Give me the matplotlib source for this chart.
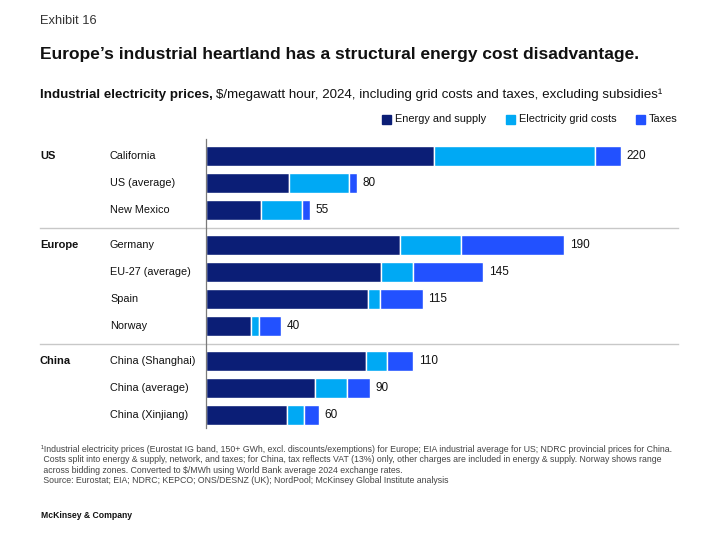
import matplotlib
matplotlib.use("Agg")
import matplotlib.pyplot as plt
from matplotlib import transforms
from matplotlib.patches import Rectangle

# ── Data ─────────────────────────────────────────────────────
groups = ["US", "Europe", "China"]
group_sizes = [3, 4, 3]
categories = ["California", "US (average)", "New Mexico",
              "Germany", "EU-27 (average)", "Spain", "Norway",
              "China (Shanghai)", "China (average)", "China (Xinjiang)"]
energy = [121, 44, 29, 103, 93, 86, 24, 85, 58, 43]
grid_costs = [85, 32, 22, 32, 17, 6, 4, 11, 17, 9]
taxes = [14, 4, 4, 55, 37, 23, 12, 14, 12, 8]
totals = [220, 80, 55, 190, 145, 115, 40, 110, 90, 60]
series_names = ["Energy and supply", "Electricity grid costs", "Taxes"]

# ── Style ────────────────────────────────────────────────────
C_ENERGY, C_GRID, C_TAX = "#0B1E76", "#00A9F4", "#2251FF"
plt.rcParams["font.family"] = ["Liberation Sans", "DejaVu Sans"]

W, H = 728, 560
fig = plt.figure(figsize=(W / 100, H / 100), dpi=100)


def fx(x):
    return x / W


def fy(y):
    return 1 - y / H


# plot area, px box: x 206..678, y 139..428
ax = fig.add_axes([fx(206), fy(428), fx(678) - fx(206), fy(139) - fy(428)])

# row positions with a small gap between groups
GAP = 0.3
ypos = []
for gi, n in enumerate(group_sizes):
    start = sum(group_sizes[:gi])
    ypos += [start + k + gi * GAP for k in range(n)]

bar_h = 0.74
left2 = [e + g for e, g in zip(energy, grid_costs)]
ax.barh(ypos, energy, height=bar_h, color=C_ENERGY, edgecolor="white", linewidth=1)
ax.barh(ypos, grid_costs, left=energy, height=bar_h, color=C_GRID,
        edgecolor="white", linewidth=1)
ax.barh(ypos, taxes, left=left2, height=bar_h, color=C_TAX,
        edgecolor="white", linewidth=1)

for y, e, g, t, tot in zip(ypos, energy, grid_costs, taxes, totals):
    ax.annotate(f"{tot}", xy=(e + g + t, y), xytext=(4, 0),
                textcoords="offset points", va="center", ha="left",
                fontsize=8.5, color="#111111")

ax.set_xlim(0, 472 / 1.886)
ax.set_ylim(ypos[-1] + 0.48, -0.63)
for s in ["top", "right", "bottom"]:
    ax.spines[s].set_visible(False)
ax.spines["left"].set_color("#7A7A7A")
ax.spines["left"].set_linewidth(0.9)
ax.set_xticks([])
ax.set_yticks([])

# row and group labels (x in figure coords, y in data)
blend = transforms.blended_transform_factory(fig.transFigure, ax.transData)
for y, cat in zip(ypos, categories):
    ax.text(fx(110), y, cat, transform=blend, ha="left", va="center",
            fontsize=7.8, color="#111111")

idx = 0
for gi, (g, n) in enumerate(zip(groups, group_sizes)):
    ax.text(fx(40), ypos[idx], g, transform=blend, ha="left", va="center",
            fontsize=8, fontweight="bold", color="#111111")
    if gi > 0:
        ysep = (ypos[idx - 1] + ypos[idx]) / 2
        ax.plot([fx(40), fx(678)], [ysep, ysep], transform=blend,
                color="#C8C8C8", lw=1, clip_on=False)
    idx += n

# ── Header ───────────────────────────────────────────────────
fig.text(fx(40), fy(24), "Exhibit 16", fontsize=9.3, color="#333333",
         va="baseline")
fig.text(fx(40), fy(59.5),
         "Europe\u2019s industrial heartland has a structural energy cost disadvantage.",
         fontsize=12.55, fontweight="bold", color="#111111", va="baseline")

renderer = fig.canvas.get_renderer()
t_bold = fig.text(fx(40), fy(98), "Industrial electricity prices,", fontsize=9.6,
                  fontweight="bold", color="#111111", va="baseline")
bb = t_bold.get_window_extent(renderer)
fig.text(bb.x1 / W + fx(3), fy(98),
         "$/megawatt hour, 2024, including grid costs and taxes, excluding subsidies\u00b9",
         fontsize=9.6, color="#111111", va="baseline")

# legend
for x0, name, col in zip([382, 506, 636], series_names, [C_ENERGY, C_GRID, C_TAX]):
    fig.patches.append(Rectangle((fx(x0), fy(124)), fx(9), 9 / H, color=col,
                                 transform=fig.transFigure, figure=fig))
    fig.text(fx(x0 + 13), fy(119.5), name, fontsize=7.9, color="#111111",
             va="center", ha="left")

# ── Footnote ─────────────────────────────────────────────────
notes = [
    "\u00b9Industrial electricity prices (Eurostat IG band, 150+ GWh, excl. discounts/exemptions) for Europe; EIA industrial average for US; NDRC provincial prices for China.",
    " Costs split into energy & supply, network, and taxes; for China, tax reflects VAT (13%) only, other charges are included in energy & supply. Norway shows range",
    " across bidding zones. Converted to $/MWh using World Bank average 2024 exchange rates.",
    " Source: Eurostat; EIA; NDRC; KEPCO; ONS/DESNZ (UK); NordPool; McKinsey Global Institute analysis",
]
for i, line in enumerate(notes):
    fig.text(fx(41), fy(452.3 + i * 10.2), line, fontsize=6.35, color="#444444",
             va="baseline")

fig.text(fx(41), fy(518), "McKinsey & Company", fontsize=6.2, fontweight="bold",
         color="#111111", va="baseline")

fig.savefig("out.png", dpi=100, facecolor="white")
